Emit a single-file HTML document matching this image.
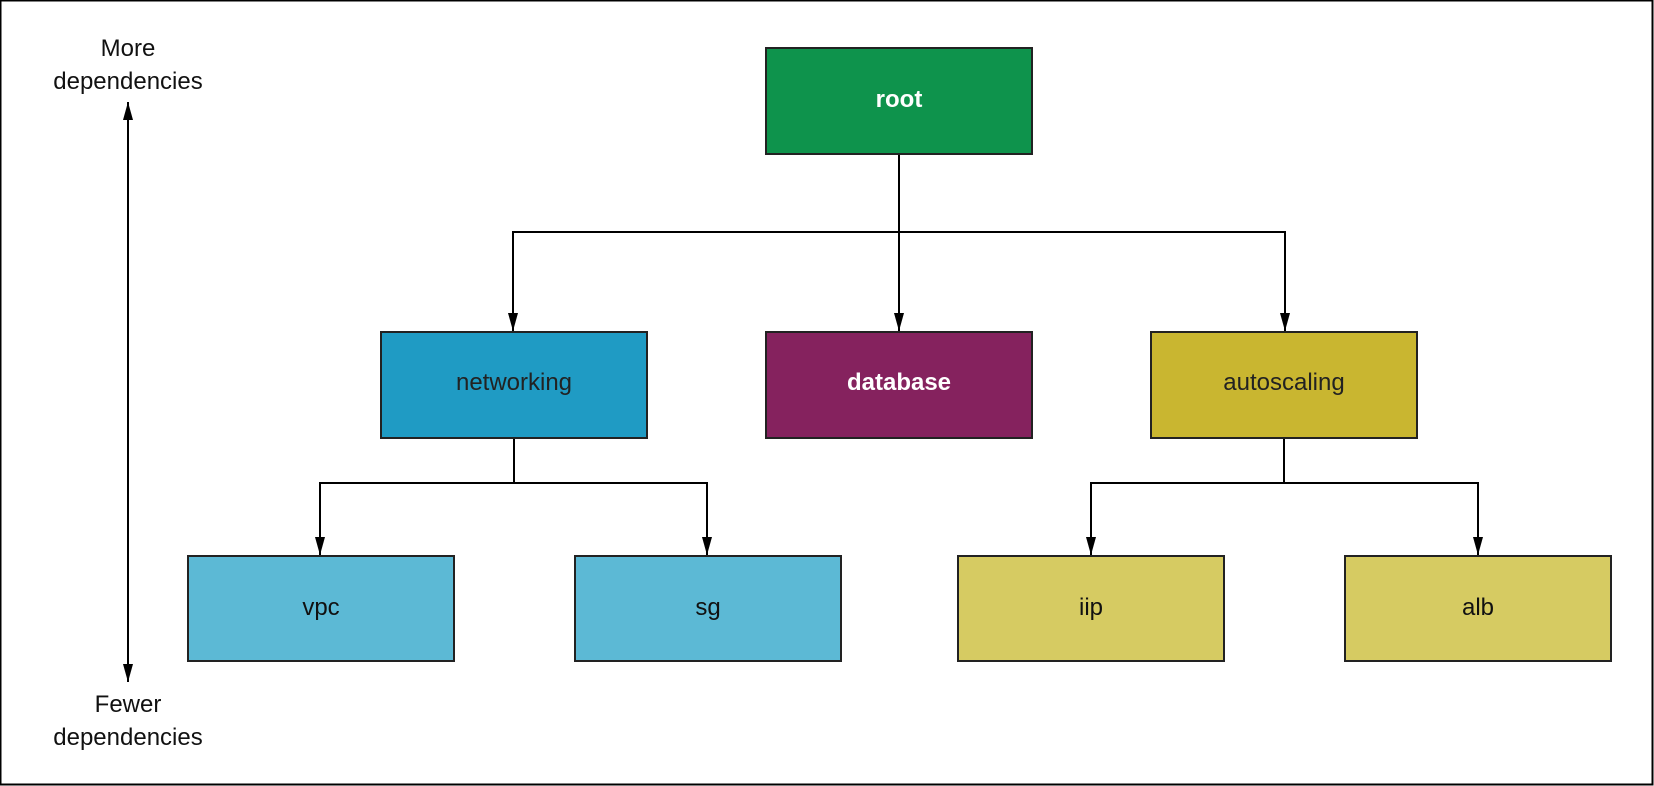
<!DOCTYPE html>
<html><head><meta charset="utf-8"><style>
html,body{margin:0;padding:0;background:#fff;}
body{width:1654px;height:786px;overflow:hidden;position:relative;font-family:"Liberation Sans",Arial,sans-serif;}
</style></head><body>
<svg width="1654" height="786" xmlns="http://www.w3.org/2000/svg" style="position:absolute;left:0;top:0">
<defs>
<marker id="b" markerWidth="18" markerHeight="10" refX="18" refY="5" orient="auto-start-reverse" markerUnits="userSpaceOnUse" viewBox="0 0 18 10"><path d="M0,0 L18,5 L0,10 Z" fill="#000"/></marker></defs>
<rect x="0.5" y="0.5" width="1652" height="784" fill="none" stroke="#000" stroke-width="2"/>
<g fill="none" stroke="#000" stroke-width="2">
<line x1="899" y1="155" x2="899" y2="331" marker-end="url(#b)"/>
<polyline points="513,331 513,232 1285,232 1285,331" marker-start="url(#b)" marker-end="url(#b)"/>
<line x1="514" y1="438" x2="514" y2="483"/>
<polyline points="320,555 320,483 707,483 707,555" marker-start="url(#b)" marker-end="url(#b)"/>
<line x1="1284" y1="438" x2="1284" y2="483"/>
<polyline points="1091,555 1091,483 1478,483 1478,555" marker-start="url(#b)" marker-end="url(#b)"/>
<line x1="128" y1="102" x2="128" y2="682" marker-start="url(#b)" marker-end="url(#b)"/>
</g>
<g stroke="#222" stroke-width="2">
<rect x="766" y="48" width="266" height="106" fill="#0e934c"/>
<rect x="381" y="332" width="266" height="106" fill="#1f9bc4"/>
<rect x="766" y="332" width="266" height="106" fill="#85225e"/>
<rect x="1151" y="332" width="266" height="106" fill="#c9b630"/>
<rect x="188" y="556" width="266" height="105" fill="#5cb9d5"/>
<rect x="575" y="556" width="266" height="105" fill="#5cb9d5"/>
<rect x="958" y="556" width="266" height="105" fill="#d6cb62"/>
<rect x="1345" y="556" width="266" height="105" fill="#d6cb62"/>
</g>
<g font-family="Liberation Sans, Arial, sans-serif" font-size="24" text-anchor="middle">
<text x="899" y="107" fill="#fff" font-weight="bold">root</text>
<text x="514" y="390" fill="#222">networking</text>
<text x="899" y="390" fill="#fff" font-weight="bold">database</text>
<text x="1284" y="390" fill="#222">autoscaling</text>
<text x="321" y="615" fill="#111">vpc</text>
<text x="708" y="615" fill="#111">sg</text>
<text x="1091" y="615" fill="#111">iip</text>
<text x="1478" y="615" fill="#111">alb</text>
<text x="128" y="56" fill="#111">More</text>
<text x="128" y="89" fill="#111">dependencies</text>
<text x="128" y="712" fill="#111">Fewer</text>
<text x="128" y="745" fill="#111">dependencies</text>
</g>
</svg>
</body></html>
